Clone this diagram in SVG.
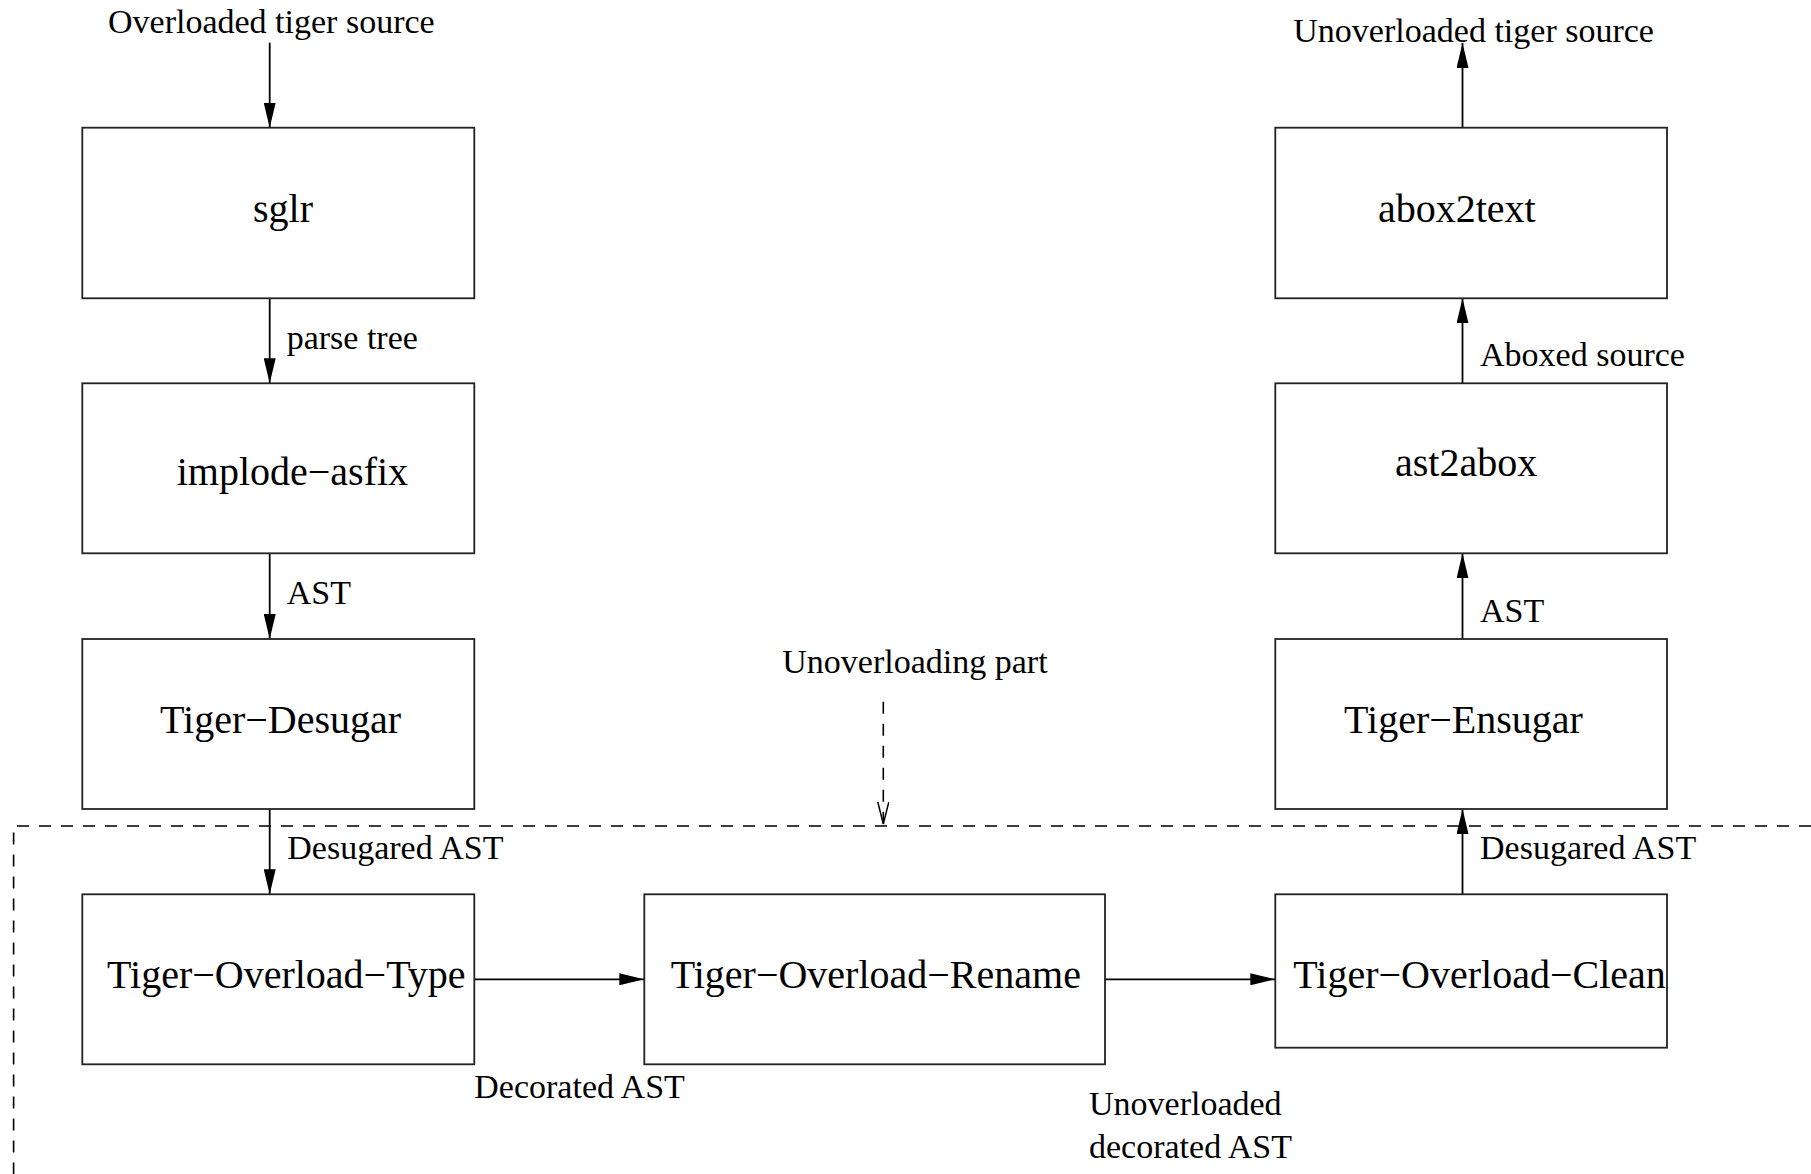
<svg xmlns="http://www.w3.org/2000/svg" width="1811" height="1174" viewBox="0 0 1811 1174">
<style>
  .box { fill: #ffffff; stroke: #222222; stroke-width: 1.8; }
  .nl { font-family: "Liberation Serif", "Times New Roman", serif; font-size: 40px; fill: #000000; }
  .el { font-family: "Liberation Serif", "Times New Roman", serif; font-size: 34px; fill: #000000; }
  .edge { fill: none; stroke: #000000; stroke-width: 1.8; }
  .dash { fill: none; stroke: #000000; stroke-width: 1.6; stroke-dasharray: 12 10; }
</style>
<defs>
  <marker id="arr" viewBox="0 0 25 12" refX="25" refY="6" markerWidth="25" markerHeight="12" markerUnits="userSpaceOnUse" orient="auto">
    <path d="M0,0 L25,6 L0,12 z" fill="#000000"/>
  </marker>
  <marker id="open" viewBox="0 0 23 12" refX="22" refY="6" markerWidth="23" markerHeight="12" markerUnits="userSpaceOnUse" orient="auto">
    <path d="M0,0.5 L22,6 L0,11.5" fill="none" stroke="#000000" stroke-width="1.5"/>
  </marker>
</defs>
<rect width="1811" height="1174" fill="#ffffff"/>

<g id="connectors">
  <line class="edge" x1="269.7" y1="42.7" x2="269.7" y2="127.7" marker-end="url(#arr)"/>
  <line class="edge" x1="269.7" y1="298.3" x2="269.7" y2="383.3" marker-end="url(#arr)"/>
  <line class="edge" x1="269.7" y1="553.3" x2="269.7" y2="639" marker-end="url(#arr)"/>
  <line class="edge" x1="269.7" y1="809" x2="269.7" y2="894.3" marker-end="url(#arr)"/>
  <line class="edge" x1="474.3" y1="979.3" x2="644.3" y2="979.3" marker-end="url(#arr)"/>
  <line class="edge" x1="1105" y1="979.3" x2="1275.3" y2="979.3" marker-end="url(#arr)"/>
  <line class="edge" x1="1462.5" y1="894.3" x2="1462.5" y2="809" marker-end="url(#arr)"/>
  <line class="edge" x1="1462.5" y1="639" x2="1462.5" y2="553.3" marker-end="url(#arr)"/>
  <line class="edge" x1="1462.5" y1="383.3" x2="1462.5" y2="298.3" marker-end="url(#arr)"/>
  <line class="edge" x1="1462.5" y1="127.7" x2="1462.5" y2="43" marker-end="url(#arr)"/>
  <path class="dash" d="M1811,826 H13.6 V1174"/>
  <line class="dash" x1="883.3" y1="701.7" x2="883.3" y2="824" marker-end="url(#open)"/>
</g>

<g id="labels">
  <text class="el" x="108" y="33">Overloaded tiger source</text>
  <text class="el" x="1293.3" y="42.3">Unoverloaded tiger source</text>
  <text class="el" x="286.7" y="349.3">parse tree</text>
  <text class="el" x="1480" y="366">Aboxed source</text>
  <text class="el" x="286.7" y="604.3">AST</text>
  <text class="el" x="1480" y="621.7">AST</text>
  <text class="el" x="782.3" y="673.3">Unoverloading part</text>
  <text class="el" x="287.3" y="859.3">Desugared AST</text>
  <text class="el" x="1480" y="859.3">Desugared AST</text>
  <text class="el" x="474.3" y="1098.3">Decorated AST</text>
  <text class="el" x="1089" y="1115">Unoverloaded</text>
  <text class="el" x="1089" y="1157.7">decorated AST</text>
</g>

<g id="sglr">
  <rect class="box" x="82.3" y="127.7" width="392" height="170.6"/>
  <text class="nl" x="253" y="221.7">sglr</text>
</g>
<g id="implode-asfix">
  <rect class="box" x="82.3" y="383.3" width="392" height="170"/>
  <text class="nl" x="176.7" y="485">implode−asfix</text>
</g>
<g id="tiger-desugar">
  <rect class="box" x="82.3" y="639" width="392" height="170"/>
  <text class="nl" x="160" y="733.3">Tiger−Desugar</text>
</g>
<g id="tiger-overload-type">
  <rect class="box" x="82.3" y="894.3" width="392" height="170"/>
  <text class="nl" x="107" y="987.7">Tiger−Overload−Type</text>
</g>
<g id="tiger-overload-rename">
  <rect class="box" x="644.3" y="894.3" width="460.7" height="170"/>
  <text class="nl" x="670.7" y="987.7">Tiger−Overload−Rename</text>
</g>
<g id="tiger-overload-clean">
  <rect class="box" x="1275.3" y="894.3" width="391.7" height="153.4"/>
  <text class="nl" x="1293.3" y="987.7">Tiger−Overload−Clean</text>
</g>
<g id="tiger-ensugar">
  <rect class="box" x="1275.3" y="639" width="391.7" height="170"/>
  <text class="nl" x="1344" y="733.3">Tiger−Ensugar</text>
</g>
<g id="ast2abox">
  <rect class="box" x="1275.3" y="383.3" width="391.7" height="170"/>
  <text class="nl" x="1395" y="476">ast2abox</text>
</g>
<g id="abox2text">
  <rect class="box" x="1275.3" y="127.7" width="391.7" height="170.6"/>
  <text class="nl" x="1378" y="221.7">abox2text</text>
</g>
</svg>
